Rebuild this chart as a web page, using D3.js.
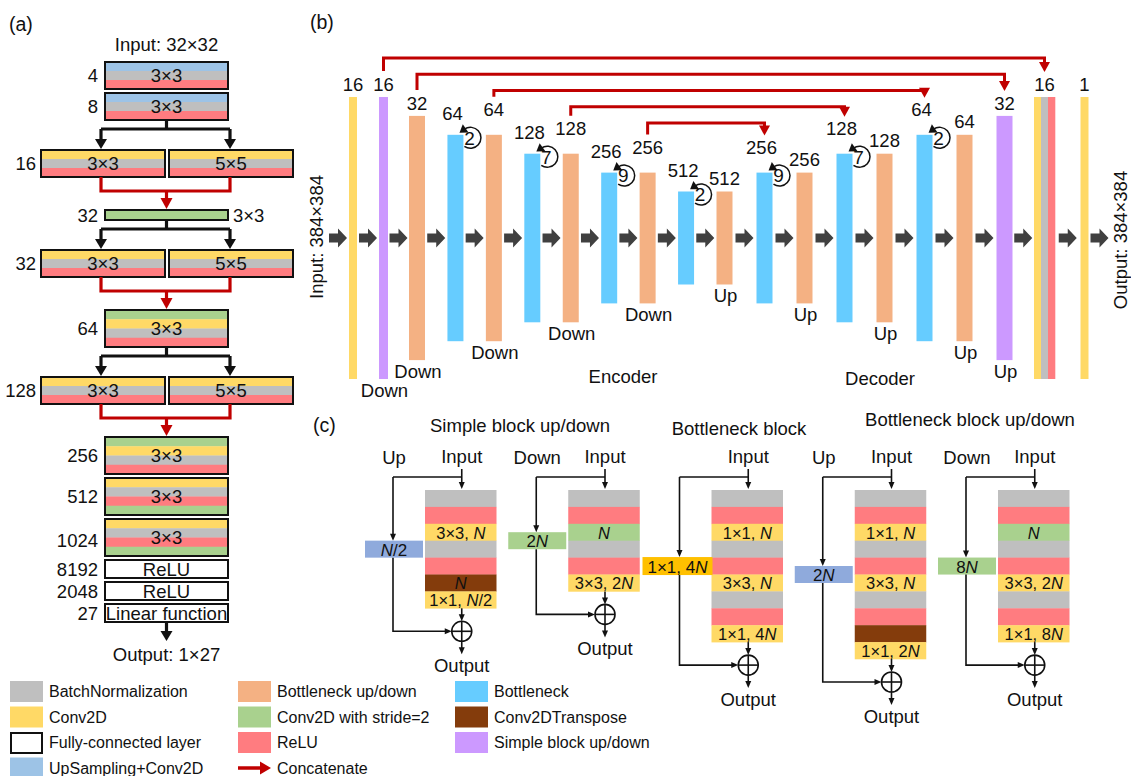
<!DOCTYPE html>
<html><head><meta charset="utf-8">
<script src="https://cdn.jsdelivr.net/npm/d3@7"></script>
<style>
html,body{margin:0;padding:0;background:#fff;}
svg{display:block;}
text{font-family:"Liberation Sans",Arial,sans-serif;fill:#111;}
</style></head><body>
<svg id="fig" width="1131" height="776"></svg>
<script>
// ---------------- DATA ----------------
// Panel (a)
const aChannels = ["4","8","16","32","32","64","128","256","512","1024","8192","2048","27"];
const aLayers = [["up","bn","relu"],["up","bn","relu"],["conv","bn","relu"],["stride"],["conv","bn","relu"],
  ["stride","conv","bn","relu"],["conv","bn","relu"],["stride","conv","bn","relu"],["conv","bn","relu","stride"],
  ["conv","bn","relu","stride"],["fc"],["fc"],["fc"]];
const aKernels = [["3×3"],["3×3"],["3×3","5×5"],["3×3"],["3×3","5×5"],["3×3"],["3×3","5×5"],["3×3"],["3×3"],["3×3"],
  ["ReLU"],["ReLU"],["Linear function"]];
const aLinks = ["none","split","merge","split","merge","split","merge","none","none","none","none","none","out"];
const aInput = "Input: 32×32";
const aOutput = "Output: 1×27";

// Panel (b)
const bKinds = ["conv","simple","bup","bneck","bup","bneck","bup","bneck","bup","bneck","bup","bneck","bup","bneck","bup","bneck","bup","simple","head","conv"];
const bChannels = ["16","16","32","64","64","128","128","256","256","512","512","256","256","128","128","64","64","32","16","1"];
const bLevels = [0,0,1,2,2,3,3,4,4,5,5,4,4,3,3,2,2,1,0,0];
const bRepeats = [null,null,null,2,null,7,null,9,null,2,null,9,null,7,null,2,null,null,null,null];
const bNotes = ["","Down","Down","","Down","","Down","","Down","","Up","","Up","","Up","","Up","Up","",""];
const bSkips = [[1,18],[2,17],[4,15],[6,13],[8,11]];
const bInput = "Input: 384×384", bOutput = "Output: 384×384";

// Panel (c)
const cTitles = ["Simple block up/down","Bottleneck block","Bottleneck block up/down"];
const cSides = ["Up","Down","","Up","Down"];
const cStacks = [
  [["bn",""],["relu",""],["conv","3×3, N"],["bn",""],["relu",""],["tconv","N"],["conv","1×1, N/2"]],
  [["bn",""],["relu",""],["stride","N"],["bn",""],["relu",""],["conv","3×3, 2N"]],
  [["bn",""],["relu",""],["conv","1×1, N"],["bn",""],["relu",""],["conv","3×3, N"],["bn",""],["relu",""],["conv","1×1, 4N"]],
  [["bn",""],["relu",""],["conv","1×1, N"],["bn",""],["relu",""],["conv","3×3, N"],["bn",""],["relu",""],["tconv",""],["conv","1×1, 2N"]],
  [["bn",""],["relu",""],["stride","N"],["bn",""],["relu",""],["conv","3×3, 2N"],["bn",""],["relu",""],["conv","1×1, 8N"]]
];
const cShortcuts = [["upbox","N/2"],["stride","2N"],["box1x1","1×1, 4N"],["upbox","2N"],["stride","8N"]];

// Legend
const legendNames = ["BatchNormalization","Conv2D","Fully-connected layer","UpSampling+Conv2D",
  "Bottleneck up/down","Conv2D with stride=2","ReLU","Concatenate",
  "Bottleneck","Conv2DTranspose","Simple block up/down"];
const legendKeys = ["bn","conv","fc","up","bup","stride","relu","concat","bneck","tconv","simple"];

// ---------------- STYLE ----------------
const C = {bn:"#BFBFBF",conv:"#FFD966",fc:"#FFFFFF",up:"#9DC3E6",bup:"#F4B183",stride:"#A9D18E",relu:"#FF7C80",
  bneck:"#66CCFF",tconv:"#843C0C",simple:"#CC99FF",concat:"#C00000",box1x1:"#FFC000",upbox:"#8FAADC",arrow:"#404040",ink:"#111"};

const svg = d3.select("#fig");

function tri(g, x, y, dir, w, h, color){
  let p;
  if(dir==="down") p=[[x,y],[x-w/2,y-h],[x+w/2,y-h]];
  else if(dir==="right") p=[[x,y],[x-h,y-w/2],[x-h,y+w/2]];
  else if(dir==="up") p=[[x,y],[x-w/2,y+h],[x+w/2,y+h]];
  else p=[[x,y],[x+h,y-w/2],[x+h,y+w/2]];
  g.append("path").attr("d",d3.line()(p)+"Z").attr("fill",color);
}
function line(g, pts, color, w){
  g.append("path").attr("d",d3.line()(pts)).attr("fill","none").attr("stroke",color).attr("stroke-width",w)
    .attr("stroke-linejoin","miter");
}
function label(g, x, y, str, size, anchor){
  const t = g.append("text").attr("x",x).attr("y",y).attr("dy","0.36em").attr("font-size",size)
    .attr("text-anchor",anchor||"middle");
  str.split(/(N)/).forEach(p=>{ if(!p) return; const s=t.append("tspan").text(p); if(p==="N") s.attr("font-style","italic"); });
  return t;
}

// ---------------- PANEL (a) ----------------
const A = svg.append("g");
A.append("text").attr("x",9).attr("y",31).attr("font-size",19.5).text("(a)");
label(A,166.5,44,aInput,18.5);
const single = [105,228], split = [[41,165],[169,293]];
let yc = 62;
const aPos = aChannels.map((ch,i)=>{
  const L = aLayers[i];
  const h = L[0]==="fc" ? 18 : L.length===1 ? 10 : L.length===3 ? 27 : 37;
  const r = {top:yc,h};
  yc += h + (aLinks[i]==="split"?30 : aLinks[i]==="merge"?33 : 4);
  return r;
});
aChannels.forEach((ch,i)=>{
  const {top,h} = aPos[i];
  const L = aLayers[i], K = aKernels[i];
  const spans = K.length===2 ? split : [single];
  spans.forEach((sp,j)=>{
    const w = sp[1]-sp[0];
    const ly = d3.scaleBand().domain(d3.range(L.length)).range([top,top+h]);
    L.forEach((k,m)=>{
      A.append("rect").attr("x",sp[0]).attr("y",ly(m)).attr("width",w).attr("height",ly.bandwidth()+0.3).attr("fill",C[k]);
    });
    A.append("rect").attr("x",sp[0]).attr("y",top).attr("width",w).attr("height",h)
      .attr("fill","none").attr("stroke",C.ink).attr("stroke-width",2);
    if(L.length===1 && L[0]==="stride") label(A,sp[1]+5,top+h/2,K[j],18.5,"start");
    else label(A,(sp[0]+sp[1])/2,top+h/2,K[j],18.5);
  });
  label(A, K.length===2?36:98, top+h/2+(ch==="1024"?3:0), ch, 18.5, "end");
  // links
  const bot = top+h, nxt = aPos[i+1];
  const cx = 166.5, lx = 101, rx = 230;
  if(aLinks[i]==="split"){
    const yy = bot+9;
    line(A,[[cx,bot],[cx,yy]],C.ink,3.2);
    line(A,[[lx,yy],[rx,yy]],C.ink,3.2);
    [lx,rx].forEach(x=>{ line(A,[[x,yy],[x,nxt.top-8]],C.ink,3.2); tri(A,x,nxt.top-1,"down",12,10,C.ink); });
  } else if(aLinks[i]==="merge"){
    const yy = bot+14;
    line(A,[[lx,bot],[lx,yy],[rx,yy],[rx,bot]],C.concat,3.2);
    line(A,[[cx,yy],[cx,nxt.top-8]],C.concat,3.2);
    tri(A,cx,nxt.top-1,"down",12,11,C.concat);
  } else if(aLinks[i]==="out"){
    line(A,[[cx,bot],[cx,bot+10]],C.ink,3.2);
    tri(A,cx,bot+19,"down",12,10,C.ink);
    label(A,cx,bot+32,aOutput,18.5);
  }
});

// ---------------- PANEL (b) ----------------
const B = svg.append("g");
B.append("text").attr("x",310).attr("y",29).attr("font-size",19.5).text("(b)");
const bx = d3.scaleLinear().domain([0,1,2,10,19]).range([353,383.5,417,724.5,1084.5]);
const bh = d3.scaleLinear().domain([0,5]).range([282,93]);
const midY = 238;
const bw = (k,i)=> k==="conv"?8 : k==="head"?21 : (k==="simple" && i<5)?9 : 16;
const srcSet = new Set(bSkips.map(s=>s[0])), tgtSet = new Set(bSkips.map(s=>s[1]));
const bars = bKinds.map((k,i)=>{
  const w = bw(k,i), h = bh(bLevels[i]), cx = bx(i);
  const top = midY-h/2;
  let lift = 13, lx = cx;
  if(k==="bneck"){ lift = tgtSet.has(i)?25:21; lx = cx-3; }
  else if(srcSet.has(i) && bLevels[i]>=2) lift = 25;
  return {k,w,h,cx,left:cx-w/2,right:cx+w/2,top,bottom:midY+h/2,labY:top-lift,labX:lx};
});
bars.forEach((b,i)=>{
  if(b.k==="head"){
    const sx = d3.scaleBand().domain([0,1,2]).range([b.left,b.right]);
    ["conv","bn","relu"].forEach((c,m)=>B.append("rect").attr("x",sx(m)).attr("y",b.top).attr("width",sx.bandwidth()+0.3).attr("height",b.h).attr("fill",C[c]));
  } else {
    B.append("rect").attr("x",b.left).attr("y",b.top).attr("width",b.w).attr("height",b.h).attr("fill",C[b.k]);
  }
  label(B,b.labX,b.labY,bChannels[i],18.5);
  if(bNotes[i]) label(B,b.cx+1,b.bottom+11,bNotes[i],18.5);
  if(bRepeats[i]!=null){
    const cx=b.right+7, cy=b.top+3, r=10.5;
    const P = a=>[cx+r*Math.cos(a*Math.PI/180), cy+r*Math.sin(a*Math.PI/180)];
    const s=P(235), e=P(125);
    B.append("path").attr("d",`M${s[0]},${s[1]}A${r},${r} 0 1 1 ${e[0]},${e[1]}`).attr("fill","none").attr("stroke",C.ink).attr("stroke-width",1.5);
    const t=[Math.sin(235*Math.PI/180), -Math.cos(235*Math.PI/180)];
    const tip=[s[0]+t[0]*6, s[1]+t[1]*6], base=[s[0]-t[0]*1.5, s[1]-t[1]*1.5], n=[-t[1],t[0]];
    B.append("path").attr("d",d3.line()([tip,[base[0]+n[0]*5,base[1]+n[1]*5],[base[0]-n[0]*5,base[1]-n[1]*5]])+"Z").attr("fill",C.ink);
    label(B,cx-1,cy,String(bRepeats[i]),19);
  }
});
// gray flow arrows
const arrowXs = [bars[0].left-11].concat(d3.range(1,bars.length).map(i=>(bars[i-1].right+bars[i].left)/2)).concat([bars[bars.length-1].right+11]);
arrowXs.forEach(x=>{
  const p=[[x-9,midY-4.5],[x,midY-4.5],[x,midY-9.5],[x+9,midY],[x,midY+9.5],[x,midY+4.5],[x-9,midY+4.5]];
  B.append("path").attr("d",d3.line()(p)+"Z").attr("fill",C.arrow);
});
// concatenate skips
const skipY = d3.scaleLinear().domain([0,bSkips.length-1]).range([58,123]);
bSkips.forEach(([s,t],d)=>{
  const y=skipY(d), a=bars[s], b=bars[t];
  const x1=bx(s), x2=bx(t);
  line(B,[[x1,a.labY-13],[x1,y],[x2,y],[x2,b.labY-21]],C.concat,3);
  tri(B,x2,b.labY-12,"down",11,10,C.concat);
});
B.append("text").attr("transform","translate(323,237) rotate(-90)").attr("text-anchor","middle").attr("font-size",18.5).text(bInput);
B.append("text").attr("transform","translate(1127,240) rotate(-90)").attr("text-anchor","middle").attr("font-size",18.5).text(bOutput);
label(B,623,376,"Encoder",18.5);
label(B,880,378,"Decoder",18.5);

// ---------------- PANEL (c) ----------------
const G = svg.append("g");
G.append("text").attr("x",313).attr("y",432).attr("font-size",19.5).text("(c)");
const titlePos = [[520,425],[739,428],[970,419]];
cTitles.forEach((t,i)=>label(G,titlePos[i][0],titlePos[i][1],t,18.5));
const sx = d3.scaleLinear().domain([0,4]).range([425,998]);
const SW = 71.5, LH = 16.9, TOP = 490;
cStacks.forEach((st,i)=>{
  const x0 = sx(i), cxm = x0+SW/2, inX = cxm+1;
  const ys = d3.scaleLinear().domain([0,st.length]).range([TOP,TOP+LH*st.length]);
  st.forEach(([k,t],m)=>{
    G.append("rect").attr("x",x0).attr("y",ys(m)).attr("width",SW).attr("height",LH+0.3).attr("fill",C[k]);
    if(t) label(G,cxm,ys(m)+LH/2+0.5,t,16.5);
  });
  const bot = ys(st.length), mid = (TOP+bot)/2;
  const scX = x0-32;
  // labels
  if(cSides[i]) label(G,scX+1,457,cSides[i],18.5);
  label(G,inX,456,"Input",18.5);
  // input arrow
  line(G,[[inX,469],[inX,TOP-6]],C.ink,1.6); tri(G,inX,TOP-1,"down",6,7,C.ink);
  line(G,[[scX,477],[inX,477]],C.ink,1.6);
  // shortcut box
  const [bk,bt] = cShortcuts[i];
  const bwid = bk==="box1x1"?70:58, bxR = bk==="box1x1"?x0+1:x0-2, bh2 = bk==="box1x1"?18:17;
  const bTop = mid-bh2/2;
  line(G,[[scX,477],[scX,bTop-6]],C.ink,1.6); tri(G,scX,bTop,"down",6,7,C.ink);
  G.append("rect").attr("x",bxR-bwid).attr("y",bTop).attr("width",bwid).attr("height",bh2).attr("fill",C[bk]);
  label(G,bxR-bwid/2,mid+0.5,bt,17);
  // sum
  const cy = bot+23, r=10;
  line(G,[[scX,bTop+bh2],[scX,cy],[inX-r-6,cy]],C.ink,1.6); tri(G,inX-r,cy,"right",6,7,C.ink);
  line(G,[[inX,bot],[inX,cy-r-6]],C.ink,1.6); tri(G,inX,cy-r,"down",6,7,C.ink);
  G.append("circle").attr("cx",inX).attr("cy",cy).attr("r",r).attr("fill","#fff").attr("stroke",C.ink).attr("stroke-width",1.6);
  line(G,[[inX-r,cy],[inX+r,cy]],C.ink,1.6); line(G,[[inX,cy-r],[inX,cy+r]],C.ink,1.6);
  line(G,[[inX,cy+r],[inX,cy+r+7]],C.ink,1.6); tri(G,inX,cy+r+13,"down",6,7,C.ink);
  label(G,inX,cy+34,"Output",18.5);
});

// ---------------- LEGEND ----------------
const Lg = svg.append("g");
const colX = [10,238,455], rowY = d3.scaleLinear().domain([0,1]).range([681,706.5]);
legendNames.forEach((n,i)=>{
  const col = i<4?0:i<8?1:2, row = i<4?i:i<8?i-4:i-8;
  const x = colX[col], y = rowY(row), k = legendKeys[i];
  if(k==="concat"){
    line(Lg,[[x,y+10.5],[x+24,y+10.5]],C.concat,3.5);
    tri(Lg,x+33,y+10.5,"right",13,11,C.concat);
  } else {
    Lg.append("rect").attr("x",x+(k==="fc"?1:0)).attr("y",y+(k==="fc"?1:0)).attr("width",k==="fc"?31:33).attr("height",k==="fc"?20:21)
      .attr("fill",C[k]).attr("stroke",k==="fc"?C.ink:"none").attr("stroke-width",2);
  }
  Lg.append("text").attr("x",x+39).attr("y",y+10.5).attr("dy","0.36em").attr("font-size",16).text(n);
});
</script>
</body></html>
